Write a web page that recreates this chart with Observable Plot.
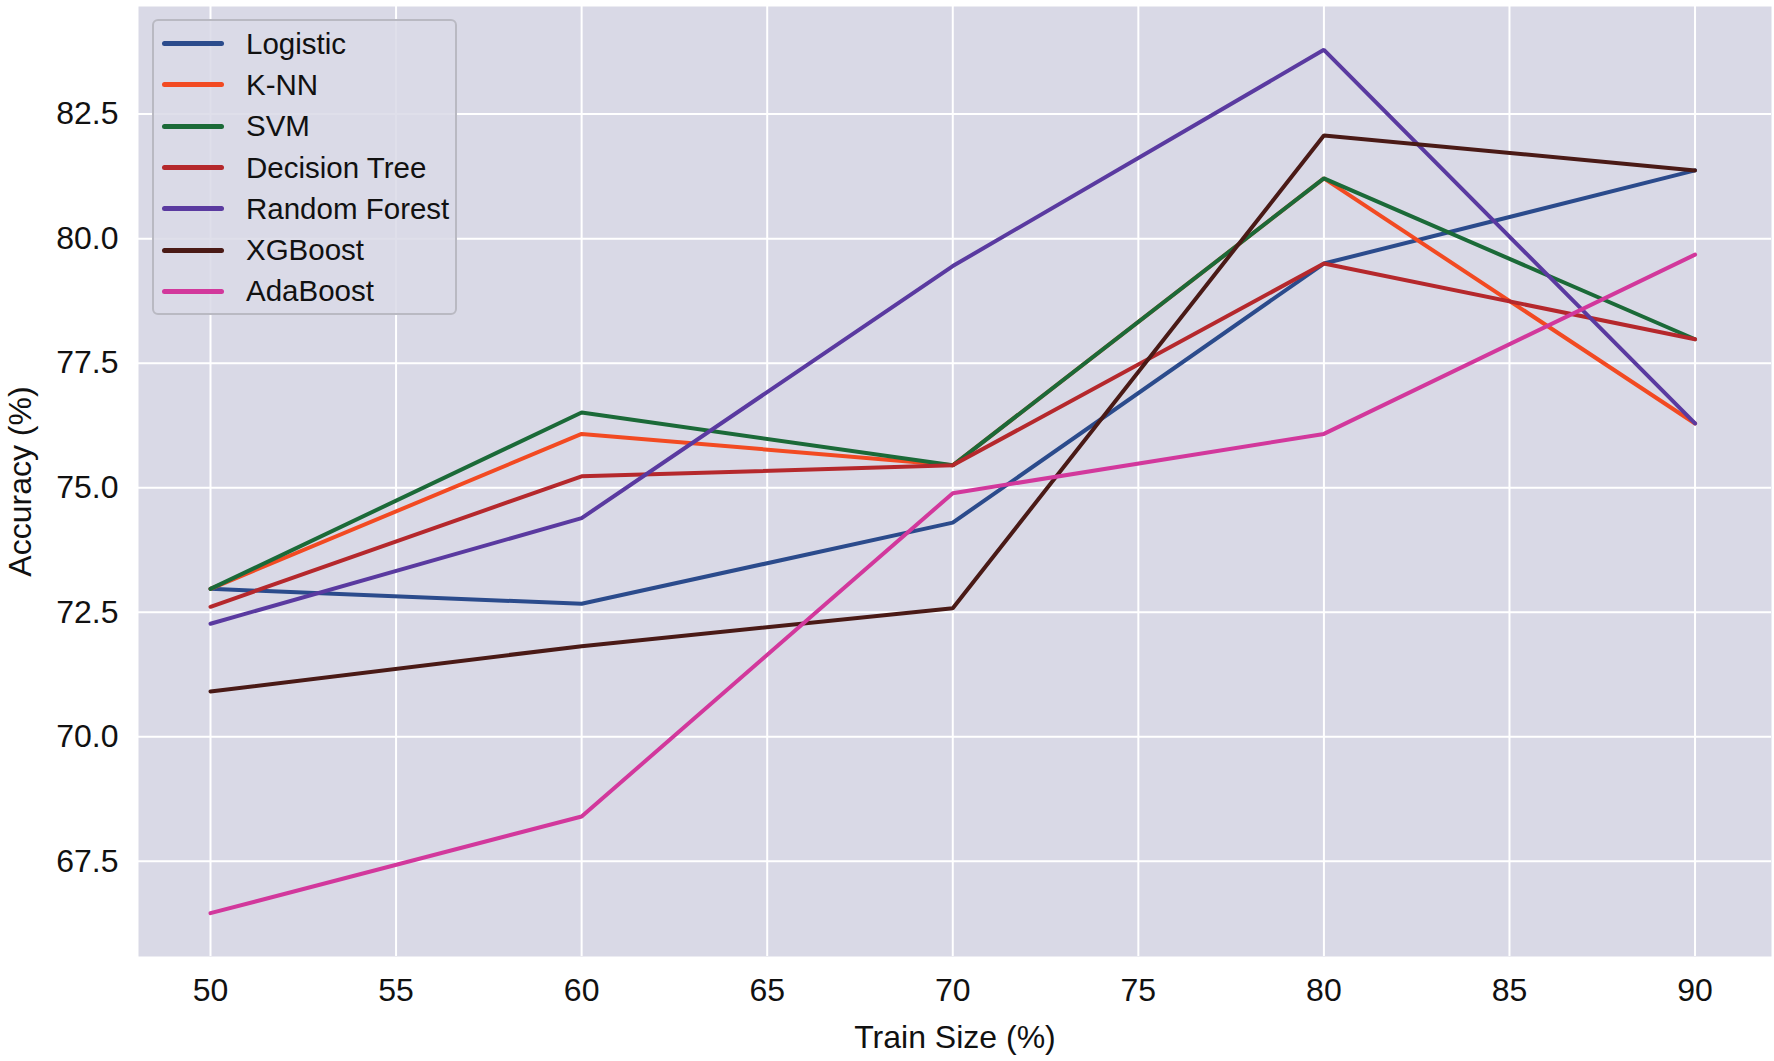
<!DOCTYPE html>
<html>
<head>
<meta charset="utf-8">
<script src="https://cdn.jsdelivr.net/npm/d3@7"></script>
<script src="https://cdn.jsdelivr.net/npm/@observablehq/plot@0.6"></script>
<style>
  html, body { margin: 0; padding: 0; background: #fff; }
  #wrap { position: relative; width: 1774px; height: 1061px; font-family: "Liberation Sans", Arial, sans-serif; }
  #legend { position: absolute; left: 152px; top: 19px; width: 305px; height: 296px; box-sizing: border-box;
    border: 2.5px solid #b9b9c2; border-radius: 6px; background: rgba(217,217,230,0.85); padding-top: 2px; }
  .row { display: flex; align-items: center; height: 41.3px; }
  .sw { width: 62px; height: 5px; margin-left: 8px; margin-right: 22px; border-radius: 2.5px; }
  .lb { font-size: 29.5px; color: #111; }
</style>
</head>
<body>
<div id="wrap">
  <div id="chart"></div>
  <div id="legend"></div>
</div>
<script>
const trainSizes = [50, 60, 70, 80, 90];
const models = ["Logistic", "K-NN", "SVM", "Decision Tree", "Random Forest", "XGBoost", "AdaBoost"];
const colors = ["#2b4b8c", "#f24a22", "#1b6a38", "#b5282c", "#5a3aa0", "#4a1a16", "#d2389c"];
const logistic     = [72.97, 72.67, 74.30, 79.50, 81.37];
const knn          = [72.97, 76.08, 75.45, 81.21, 76.29];
const svm          = [72.97, 76.51, 75.45, 81.21, 77.98];
const decisionTree = [72.61, 75.23, 75.45, 79.50, 77.98];
const randomForest = [72.27, 74.39, 79.45, 83.79, 76.29];
const xgboost      = [70.91, 71.82, 72.58, 82.07, 81.37];
const adaboost     = [66.46, 68.40, 74.89, 76.08, 79.68];
const xTicks = [50, 55, 60, 65, 70, 75, 80, 85, 90];
const yTicks = [67.5, 70.0, 72.5, 75.0, 77.5, 80.0, 82.5];

const series = [logistic, knn, svm, decisionTree, randomForest, xgboost, adaboost];
const data = [];
series.forEach((vals, i) => vals.forEach((v, j) => data.push({model: models[i], x: trainSizes[j], y: v})));

const chart = Plot.plot({
  width: 1774,
  height: 1061,
  marginLeft: 138,
  marginRight: 3,
  marginTop: 6,
  marginBottom: 105,
  style: {fontFamily: "Liberation Sans, Arial, sans-serif", fontSize: "29px", color: "#111", background: "#fff"},
  x: {domain: [48.06, 92.06]},
  y: {domain: [65.59, 84.66]},
  color: {domain: models, range: colors},
  marks: [
    Plot.frame({fill: "#d9d9e6", stroke: null}),
    Plot.gridX(xTicks, {stroke: "#fff", strokeOpacity: 1, strokeWidth: 2}),
    Plot.gridY(yTicks, {stroke: "#fff", strokeOpacity: 1, strokeWidth: 2}),
    Plot.line(data, {x: "x", y: "y", z: "model", stroke: "model", strokeWidth: 4, strokeLinejoin: "miter"}),
    Plot.axisX(xTicks, {tickSize: 0, tickPadding: 22, fontSize: 29.5, label: "Train Size (%)", labelAnchor: "center", labelArrow: "none", labelOffset: 91}),
    Plot.axisY(yTicks, {tickSize: 0, tickPadding: 20, fontSize: 29.5, tickFormat: d3.format(".1f"), label: "Accuracy (%)", labelAnchor: "center", labelArrow: "none", labelOffset: 130})
  ]
});
chart.querySelectorAll("[aria-label$='axis label'] text, g[aria-label$='label'] text").forEach(t => t.setAttribute("font-size", "32"));
document.getElementById("chart").appendChild(chart);

const leg = document.getElementById("legend");
models.forEach((m, i) => {
  const r = document.createElement("div"); r.className = "row";
  const s = document.createElement("div"); s.className = "sw"; s.style.background = colors[i];
  const l = document.createElement("div"); l.className = "lb"; l.textContent = m;
  r.appendChild(s); r.appendChild(l); leg.appendChild(r);
});
</script>
</body>
</html>
